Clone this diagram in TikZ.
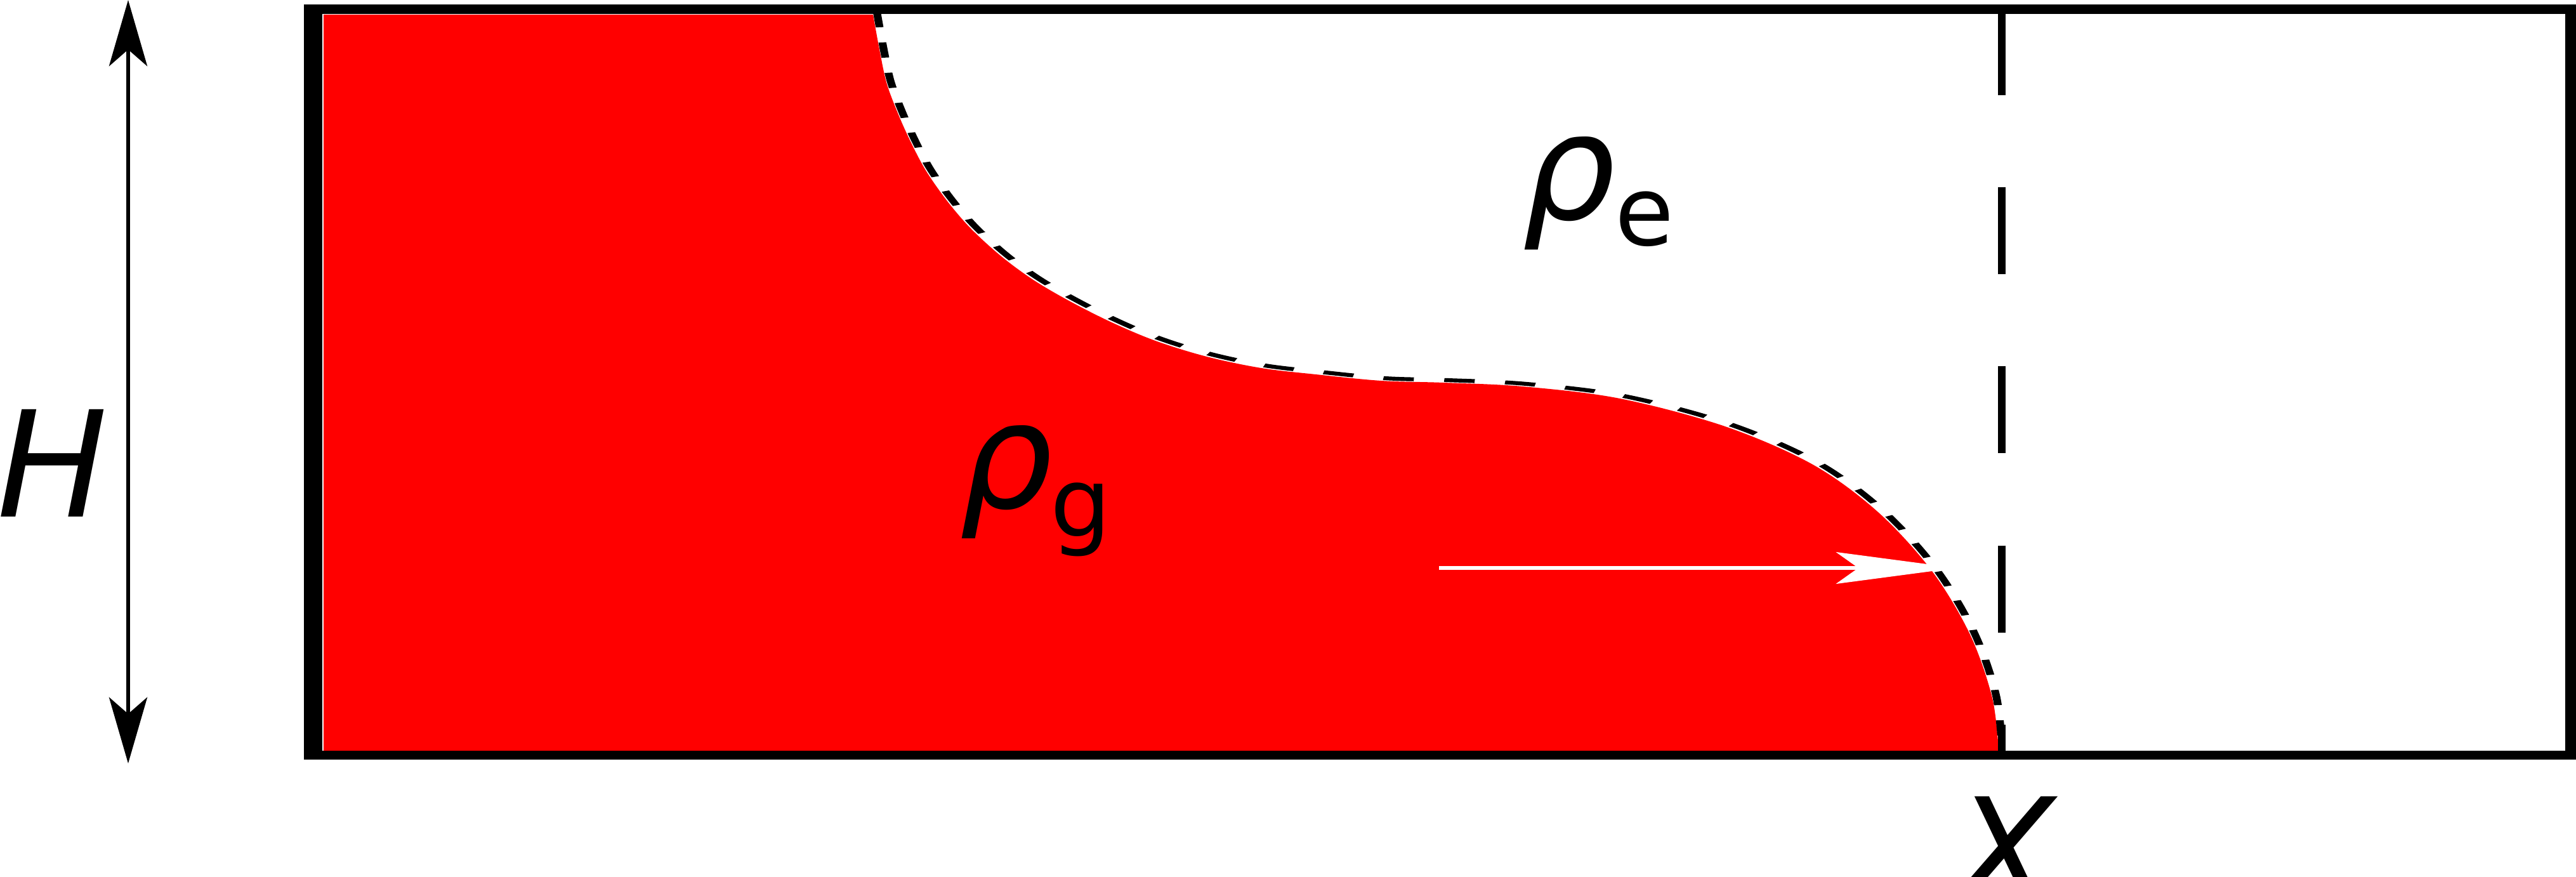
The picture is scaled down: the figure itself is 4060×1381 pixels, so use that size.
\documentclass[tikz,border=0pt]{standalone}
\usepackage{fontspec}
\setmainfont{DejaVu Sans}
\usetikzlibrary{arrows.meta}
\begin{document}
\begin{tikzpicture}[x=0.01cm,y=-0.01cm,
  lab/.style={inner sep=0pt,anchor=base west,font=\fontsize{66}{70}\selectfont\itshape},
  sublab/.style={inner sep=0pt,anchor=base west,font=\fontsize{43}{48}\selectfont},
  border/.style={fill=black},
  interface/.style={draw=black,line width=1.75pt,dash pattern=on 6.83pt off 6.83pt},
  frontline/.style={draw=black,line width=3.41pt,dash pattern=on 38.98pt off 41.26pt},
  harrow/.style={line width=1.85pt,{Stealth[length=29.6pt,width=17.07pt,inset=7.4pt]}-{Stealth[length=29.6pt,width=17.07pt,inset=7.4pt]}},
  warrow/.style={white,line width=1.71pt,-{Stealth[length=53.8pt,width=14.2pt,inset=9.96pt]}}]
\useasboundingbox (0,0) rectangle (4060,1381);
\def\curvepts{(1376,23) (1387,83) (1398,133) (1417,183) (1437,227) (1460,270) (1493,317) (1530,360) (1577,403) (1627,440) (1683,473) (1750,507) (1821,537) (1902,562) (1988,580) (2074,590) (2177,600) (2275,603) (2400,609) (2553,628) (2719,672) (2857,732) (2960,807) (3045,900) (3105,1000) (3140,1100)}
% red fluid
\fill[red] (510,23) -- plot[smooth,tension=0.55] coordinates {\curvepts (3150,1183)} -- (510,1183) -- cycle;
% vertical dashed front line
\coordinate (ftop) at (3155,13);
\coordinate (fbot) at (3155,1190);
\draw[frontline] (ftop) -- (fbot);
% dashed interface
\begin{scope}[transform canvas={xscale=2}]
\begin{scope}[xscale=0.5,shift={(6,-4)}]
\draw[interface] plot[smooth,tension=0.55] coordinates {\curvepts (3150,1194)};
\end{scope}
\end{scope}
% white arrow
\coordinate (ws) at (2268,895);
\coordinate (we) at (3083,895);
\draw[warrow] (ws) -- (we);
% box
\fill[border] (479,7) rectangle (4075,22);
\fill[border] (479,1183) rectangle (4075,1197);
\fill[border] (479,7) rectangle (508,1197);
\fill[border] (4043,7) rectangle (4075,1197);
% height arrow
\coordinate (htop) at (202,0);
\coordinate (hbot) at (202,1203);
\draw[harrow] (htop) -- (hbot);
% labels
\node[lab] (H) at (-5,814) {H};
\node[lab] (X) at (3080,1424) {X};
\node[lab] (rhog) at (1512,800) {ρ};
\node[sublab] (g) at (1655,845) {g};
\node[lab] (rhoe) at (2399,345) {ρ};
\node[sublab] (e) at (2545,386) {e};
\end{tikzpicture}
\end{document}
